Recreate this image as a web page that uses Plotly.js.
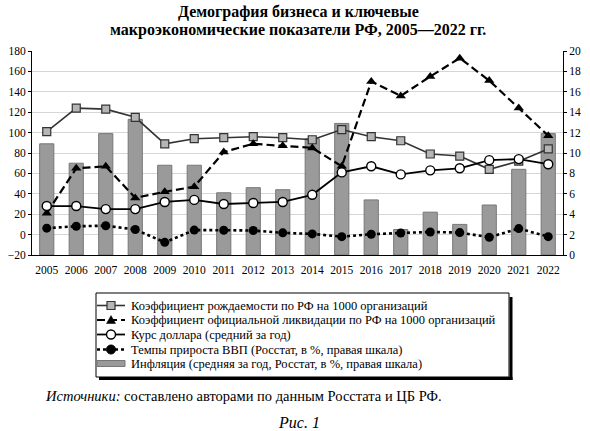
<!DOCTYPE html>
<html>
<head>
<meta charset="utf-8">
<script src="https://cdn.plot.ly/plotly-3.0.1.min.js"></script>
<style>
  html, body { margin: 0; padding: 0; background: #fff; }
  #chart { width: 590px; height: 431px; }
</style>
</head>
<body>
<div id="chart"></div>
<script>
// years on the x axis
const years = ['2005','2006','2007','2008','2009','2010','2011','2012','2013',
               '2014','2015','2016','2017','2018','2019','2020','2021','2022'];

// left scale
const birthRate = [101, 124, 123, 115, 89, 94, 95, 96, 95, 93, 103, 96, 92, 79, 77, 64, 72, 84];
const liquidationRate = [21, 65, 67, 36, 42, 47, 81, 89, 87, 85, 67, 150, 136, 155, 173, 151, 124, 97];
const usdRate = [28, 28, 25, 25, 32, 34, 30, 31, 32, 39, 61, 67, 59, 63, 65, 73, 74, 69];
const gdpGrowth = [6.3, 8.2, 8.7, 5.0, -7.6, 4.4, 4.3, 4.0, 1.7, 0.7, -2.0, 0.3, 1.6, 2.6, 2.0, -2.6, 5.9, -2.0];

// right scale
const inflation = [10.9, 9.0, 11.9, 13.3, 8.8, 8.8, 6.1, 6.6, 6.4, 11.4, 12.9, 5.4, 2.5, 4.2, 3.0, 4.9, 8.4, 11.9];

const names = [
  'Коэффициент рождаемости по РФ на 1000 организаций',
  'Коэффициент официальной ликвидации по РФ на 1000 организаций',
  'Курс доллара (средний за год)',
  'Темпы прироста ВВП (Росстат, в %, правая шкала)',
  'Инфляция (средняя за год, Росстат, в %, правая шкала)'
];
const titleLines = ['Демография бизнеса и ключевые', 'макроэкономические показатели РФ, 2005—2022 гг.'];

const serif = 'Liberation Serif, DejaVu Serif, serif';

// page geometry (px) -> paper coords, used for the hand-drawn legend box
const W = 590, H = 431, M = { l: 32, r: 27, t: 51, b: 176 };
const pw = W - M.l - M.r, ph = H - M.t - M.b;
const px = v => (v - M.l) / pw;
const py = v => (H - M.b - v) / ph;

// bars live on the main (right-side) axis so the lines drawn on the overlay stay on top
const traces = [
  {
    x: years, y: inflation, name: names[4], type: 'bar', yaxis: 'y',
    marker: { color: '#9a9a9a', line: { color: '#777', width: 1 } }
  },
  {
    x: years, y: birthRate, name: names[0], type: 'scatter', mode: 'lines+markers', yaxis: 'y2',
    line: { color: '#333', width: 1.6 },
    marker: { symbol: 'square', size: 8, color: '#b5b5b5', line: { color: '#333', width: 1.2 } }
  },
  {
    x: years, y: liquidationRate, name: names[1], type: 'scatter', mode: 'lines+markers', yaxis: 'y2',
    line: { color: '#000', width: 2.2, dash: '8px,4px' },
    marker: { symbol: 'triangle-up', size: 9, color: '#000' }
  },
  {
    x: years, y: usdRate, name: names[2], type: 'scatter', mode: 'lines+markers', yaxis: 'y2',
    line: { color: '#000', width: 1.8 },
    marker: { symbol: 'circle', size: 9, color: '#fff', line: { color: '#000', width: 1.4 } }
  },
  {
    x: years, y: gdpGrowth, name: names[3], type: 'scatter', mode: 'lines+markers', yaxis: 'y2',
    line: { color: '#000', width: 2.6, dash: 'dot' },
    marker: { symbol: 'circle', size: 9, color: '#000' }
  }
];

// legend drawn by hand: plotly's own rows are taller than the original's
const rowY = [305.5, 320, 334.5, 349.5, 363.5];
const keyX0 = 97, keyX1 = 125, keyMid = 111, textX = 129;
const shapes = [
  { type: 'rect', xref: 'paper', yref: 'paper', x0: px(96), x1: px(509), y0: py(293), y1: py(377),
    line: { color: '#000', width: 1 }, fillcolor: 'rgba(0,0,0,0)' },
  { type: 'line', xref: 'paper', yref: 'paper', x0: px(99), x1: px(512.5), y0: py(378.5), y1: py(378.5),
    line: { color: '#000', width: 3 } },
  { type: 'line', xref: 'paper', yref: 'paper', x0: px(511), x1: px(511), y0: py(297), y1: py(380),
    line: { color: '#000', width: 3 } }
];
const keyLines = [
  { color: '#333', width: 1.6, dash: 'solid' },
  { color: '#000', width: 2.2, dash: '8px,4px' },
  { color: '#000', width: 1.8, dash: 'solid' },
  { color: '#000', width: 2.6, dash: 'dot' }
];
keyLines.forEach((ln, i) => {
  shapes.push({ type: 'line', xref: 'paper', yref: 'paper',
    x0: px(keyX0), x1: px(keyX1), y0: py(rowY[i]), y1: py(rowY[i]), line: ln });
});
// square
shapes.push({ type: 'rect', xref: 'paper', yref: 'paper',
  x0: px(keyMid - 4), x1: px(keyMid + 4), y0: py(rowY[0] - 4), y1: py(rowY[0] + 4),
  fillcolor: '#b5b5b5', line: { color: '#333', width: 1.2 } });
// triangle
shapes.push({ type: 'path', xref: 'paper', yref: 'paper',
  path: 'M' + px(keyMid - 4.5) + ',' + py(rowY[1] + 3.5) + ' L' + px(keyMid + 4.5) + ',' + py(rowY[1] + 3.5) +
        ' L' + px(keyMid) + ',' + py(rowY[1] - 4.5) + ' Z',
  fillcolor: '#000', line: { color: '#000', width: 0.5 } });
// open circle
shapes.push({ type: 'circle', xref: 'paper', yref: 'paper',
  x0: px(keyMid - 4.5), x1: px(keyMid + 4.5), y0: py(rowY[2] - 4.5), y1: py(rowY[2] + 4.5),
  fillcolor: '#fff', line: { color: '#000', width: 1.4 } });
// filled circle
shapes.push({ type: 'circle', xref: 'paper', yref: 'paper',
  x0: px(keyMid - 4.5), x1: px(keyMid + 4.5), y0: py(rowY[3] - 4.5), y1: py(rowY[3] + 4.5),
  fillcolor: '#000', line: { color: '#000', width: 1 } });
// bar key
shapes.push({ type: 'rect', xref: 'paper', yref: 'paper',
  x0: px(keyX0), x1: px(keyX1), y0: py(rowY[4] - 3), y1: py(rowY[4] + 3),
  fillcolor: '#9a9a9a', line: { color: '#777', width: 1 } });

const annotations = names.map((n, i) => ({
  xref: 'paper', yref: 'paper', x: px(textX), y: py(rowY[i]), xanchor: 'left', yanchor: 'middle',
  text: n, showarrow: false, font: { family: serif, size: 12.5, color: '#000' }
}));
titleLines.forEach((t, i) => {
  annotations.push({
    xref: 'paper', yref: 'paper', x: px(298), y: py(12 + i * 18), xanchor: 'center', yanchor: 'middle',
    text: '<b>' + t + '</b>', showarrow: false, font: { family: serif, size: 16, color: '#000' }
  });
});
annotations.push(
  {
    xref: 'paper', yref: 'paper', x: px(43), y: py(396), xanchor: 'left', yanchor: 'middle',
    text: '<i>Источники:</i> составлено авторами по данным Росстата и ЦБ РФ.',
    showarrow: false, font: { family: serif, size: 14.5, color: '#000' }
  },
  {
    xref: 'paper', yref: 'paper', x: px(299), y: py(422), xanchor: 'center', yanchor: 'middle',
    text: '<i>Рис. 1</i>',
    showarrow: false, font: { family: serif, size: 16, color: '#000' }
  }
);

const layout = {
  width: W,
  height: H,
  margin: M,
  paper_bgcolor: '#fff',
  plot_bgcolor: '#fff',
  font: { family: serif, size: 11, color: '#000' },
  bargap: 0.52,
  showlegend: false,
  xaxis: {
    type: 'category', range: [-0.5, 17.5],
    showline: true, linecolor: '#000', linewidth: 1,
    ticks: '', showgrid: false, ticklabelstandoff: 4,
    tickfont: { family: serif, size: 11.5 }
  },
  yaxis: {
    range: [0, 20], dtick: 2, side: 'right',
    showline: true, linecolor: '#000', linewidth: 1,
    ticks: 'outside', ticklen: 3, tickcolor: '#000',
    gridcolor: '#d6d6d6', zeroline: false,
    tickfont: { family: serif, size: 11.5 }
  },
  yaxis2: {
    range: [-20, 180], dtick: 20, overlaying: 'y', side: 'left',
    showline: true, linecolor: '#000', linewidth: 1,
    ticks: 'outside', ticklen: 3, tickcolor: '#000',
    showgrid: false, zeroline: false,
    tickfont: { family: serif, size: 11.5 }
  },
  shapes: shapes,
  annotations: annotations
};

Plotly.newPlot('chart', traces, layout, { displayModeBar: false, staticPlot: true });
</script>
</body>
</html>
